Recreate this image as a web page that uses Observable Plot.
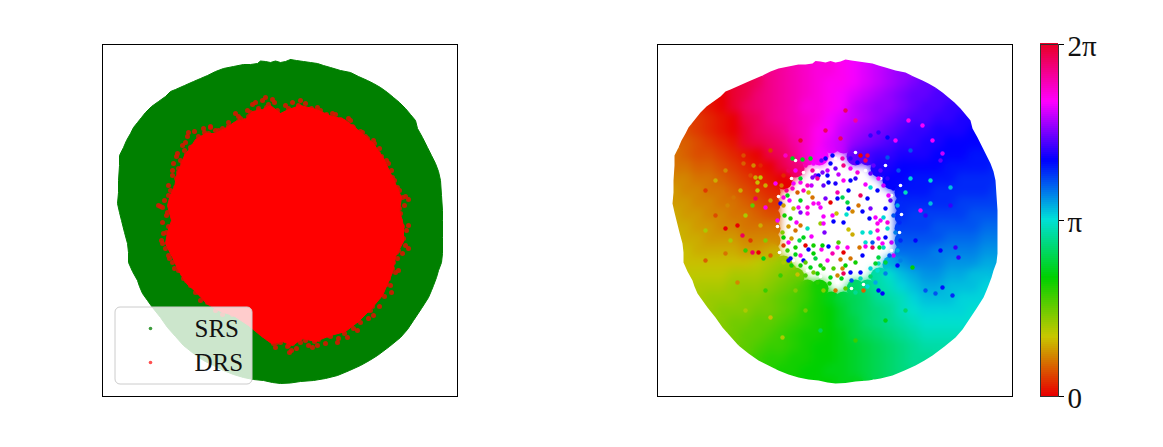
<!DOCTYPE html>
<html><head><meta charset="utf-8">
<script src="https://cdn.jsdelivr.net/npm/d3@7"></script>
<script src="https://cdn.jsdelivr.net/npm/@observablehq/plot@0.6"></script>
<style>
html,body{margin:0;padding:0;background:#fff}
#chart{position:relative;width:1163px;height:447px;overflow:hidden}
#chart svg{position:absolute;background:transparent;overflow:visible}
</style></head><body><div id="chart"></div>
<script>
const _ = null;
// embedding outline (common coordinates of both panels)
const outlineX = [290,285,280,275,270,265,260,257,250,243,233,223,215,207,200,193,184,175,170,165,158,151,145,141,137,133,130,126,123,119,119,118,118,117,119,121,124,127,128,128,132,137,139,142,147,152,160,167,175,183,193,203,213,223,233,243,253,263,272,280,290,300,313,325,337,349,360,369,377,389,400,407,413,421,428,431,433,436,438,441,442,442,442,442,441,440,438,435,431,427,422,417,415,410,405,399,393,387,380,373,367,358,350,340,330,323,317,310,303,296,290];
const outlineY = [59,61,62,60.5,62,61,60.5,63,64,64,66,68,71,75,78,81,85,89,91,96,101,106,112,117,122,127,133,140,147,155,165,180,192,203,212,220,232,243,252,262,271,280,286,293,300,307,317,327,336,345,353,360,365,370,374,377,379,380,382,383,382.5,381,380,378,375,370,365,360,355,346,337,329,320,308,297,290,285,277,270,262,253,237,220,210,195,180,171,163,155,147,137,128,120,114,108,102,97,92,87,83,80,76,72,70,67,65,63,62,61,60,59];
// DRS solid region outline
const drsX = [280,270,262,252,245,235,226,215,205,195,190,184,180,176,174,170,167,171,167,165,172,178,186,195,206,220,233,248,260,271,282,292,302,315,330,345,358,371,382,392,395,403,403,399,401,393,383,373,357,344,329,316,300,288,280];
const drsY = [113,105,109,111,119,121,127,133,133,139,147,155,165,175,187,194,205,220,232,243,257,270,283,291,303,311,315,325,335,343,341,345,338,341,335,331,321,308,295,272,256,241,225,210,197,179,158,143,129,119,115,109,105,109,113];
// DRS fringe points
const fringeX = [188,203,210,215,185,177,173,172,175,168,162,158,167,235,240,255,265,272,247,200,210,300,317,332,348,360,373,378,388,392,397,408,402,400,408,408,402,397,398,390,373,370,357,347,337,317,308,300,289,292,162,168,172,182,187,195,208,163,260,273,267,160,164,170,168,176,172,178,180,176,184,182,190,187,194,198,204,210,216,222,228,233,238,244,250,252,258,262,268,274,277,285,292,298,305,311,320,326,335,341,350,353,362,367,374,379,381,386,384,391,394,389,399,405,396,404,400,406,403,405,398,393,395,388,391,384,379,372,368,360,353,344,338,330,325,318,312,305,296,291,287,280,275,268,262,254,248,240,232,222,215,207,200,197,190,183,178,174,169,165,161,166,168,162,166,
172,174,178,182,186,192,199,208,218,228,238,248,258,266,276,288,298,312,326,340,352,365,373,382,388,393,396,399,402,401,396,392,386,378,368,356,342,328,314,300,288,276,264,252,238,224,210,198,186,178,172,168,170,172];
const fringeY = [132,128,127,130,142,153,163,175,187,195,207,205,212,113,118,102,97,99,110,143,140,100,107,113,118,131,140,153,163,177,187,199,197,213,225,248,253,258,270,285,315,310,330,337,342,345,345,342,352,343,243,255,262,273,280,292,292,233,323,343,333,206,200,190,185,178,170,168,160,156,150,145,147,136,131,136,132,126,134,128,122,126,116,120,112,104,108,100,104,102,110,105,102,106,103,108,110,115,114,120,120,127,132,138,143,148,156,160,168,170,180,185,190,196,196,205,220,230,238,245,250,262,272,278,292,296,306,306,318,322,328,333,338,336,343,339,347,340,348,350,346,342,347,338,330,325,318,316,314,314,310,302,300,287,285,278,270,268,258,248,240,232,226,222,215,
200,190,172,162,154,146,140,133,130,126,121,116,110,107,112,108,105,110,114,119,126,136,148,160,172,185,195,208,226,240,252,268,284,296,310,320,330,335,341,338,345,342,335,324,314,310,303,292,280,266,252,240,228,214];
// legend
const legendLabels = ["SRS","DRS"];
const legendDotX = [150,150];
const legendTextX = [194,194];
const legendY = [328,362];
// phase field: [first column, values...] in tenths of a radian, one row per y
const fieldX0 = 120, fieldY0 = 60, fieldStep = 12;
const phaseRows = [
[11,55,54,54,53,52,51,50],
[8,58,57,56,55,54,54,53,52,51,50,49,48],
[5,62,61,60,58,57,56,55,54,53,53,52,51,50,49,48,47,46],
[3,1,0,62,61,59,58,57,56,55,54,53,52,51,50,49,48,47,46,46,45,45],
[2,2,1,0,62,60,59,58,57,56,54,54,53,52,50,49,48,48,47,46,45,45,44,44],
[2,3,2,1,0,61,60,58,57,56,55,54,52,51,50,49,48,47,46,45,45,44,44,43,43],
[1,4,3,2,1,0,62,60,59,58,56,55,53,52,50,49,48,47,46,45,44,44,43,43,43,42],
[1,5,4,3,2,1,62,61,60,59,57,55,53,51,50,48,47,46,45,44,44,43,43,42,42,42,42],
[0,6,5,4,4,3,2,1,0,61,60,58,55,52,_,_,46,45,44,44,43,43,43,42,42,42,41,41],
[0,6,6,5,5,4,3,2,1,0,61,59,_,_,_,_,_,_,43,43,42,42,42,42,41,41,41,41,40],
[0,7,7,6,6,5,4,3,2,1,0,_,_,_,_,_,_,_,_,42,42,41,41,41,41,40,40,40,40],
[0,8,7,7,6,6,5,4,3,2,_,_,_,_,_,_,_,_,_,_,41,41,41,40,40,40,40,40,39],
[0,8,8,7,7,6,6,5,4,3,_,_,_,_,_,_,_,_,_,_,40,40,40,40,40,39,39,39,39],
[0,9,8,8,7,7,6,6,5,4,_,_,_,_,_,_,_,_,_,_,40,39,39,39,39,39,38,38,38],
[0,9,9,8,8,7,7,6,6,6,_,_,_,_,_,_,_,_,_,_,39,39,39,38,38,38,38,37,37],
[0,10,9,9,8,8,8,7,7,7,_,_,_,_,_,_,_,_,_,_,38,38,38,38,37,37,37,36,36],
[0,10,10,9,9,9,9,8,8,9,_,_,_,_,_,_,_,_,_,_,37,37,37,36,36,36,36,35,35],
[1,10,10,10,10,10,10,11,12,13,_,_,_,_,_,_,_,_,34,35,36,36,36,35,35,35,34,34],
[1,11,11,11,11,12,12,12,13,14,15,_,_,_,_,_,_,29,31,33,34,35,35,34,34,33,33],
[2,12,12,12,13,13,13,14,15,16,18,20,_,_,26,27,29,30,32,33,34,34,33,33,33,32],
[2,12,13,13,13,14,14,15,16,17,18,20,22,24,25,26,28,29,30,32,33,33,33,32,32,32],
[3,13,14,14,14,15,15,16,17,19,20,21,23,25,26,27,28,30,31,32,32,32,32,31],
[4,14,15,15,16,16,17,18,19,20,21,23,24,26,27,28,29,30,31,31,31,31,31],
[5,15,16,16,17,18,19,20,20,21,22,24,25,26,27,28,29,30,30,30,30],
[6,16,17,18,18,19,20,21,21,22,23,24,25,26,27,28,29,29,29],
[7,18,19,19,20,20,21,21,22,23,24,25,26,27,28,28],
[9,20,20,21,21,22,22,23,24,25,26,27],
[12,21,21,22,22]
];
const fieldCells = phaseRows.flatMap((row,j)=>row.slice(1).map((v,i)=>({
  x: fieldX0+fieldStep*(row[0]+i), y: fieldY0+fieldStep*j, phase: v===null?null:v/10})).filter(d=>d.phase!==null));
// white gaps between samples around the central hole
const gapX = [236,246,223,238,222,236,224,238,252,265,282,296,308,322,336,344,346,336,345,325,310,296,280,262,248,240,300,330];
const gapY = [178,178,196,205,226,232,252,260,270,276,282,288,284,262,250,232,214,195,185,178,170,170,158,170,172,160,152,165];
// individual samples: x, y, phase tenths
const sampleX = [268,277,281,278,288,291,293,297,265,268,269,256,248,240,245,252,283,273,282,292,288,266,267,258,253,258,235,240,307,315,322,310,317,310,317,304,324,325,320,322,314,315,312,307,303,297,293,287,292,282,275,270,265,258,252,243,257,253,245,238,263,252,235,222,225,238,245,252,260,273,280,288,295,282,293,305,315,275,287,295,302,315,323,322,333,328,330,323,332,248,257,267,237,232,228,233,248,287,300,307,323,295,285,272,277,290,265,255,245,238,323,315,305,295,262,275,282,288,200,205,202,202,197,188,188,198,178,172,220,228,210,200,237,247,255,245,257,270,263,277,355,375,395,350,375,387,377,367,353,332,323,305,312,285,290,332,343,365,323,327,308,387,397,342,357,330,400,403,380,320,338,327,190,203,208,197,182,215,227,233,170,182,187,150,170,
228,233,240,226,231,242,248,228,234,245,229,233,241,227,236,244,250,232,240,228,245,236,250,228,
250,258,266,272,280,288,295,302,310,318,262,272,283,300,310,268,256,
325,332,338,328,335,342,330,338,344,332,340,345,336,328,342,334,345,330,
260,268,278,286,296,305,315,322,274,262,280,290,300,312,320,250,258,242,268,
150,160,170,185,195,205,210,215,160,190,205,210,195,175,150,215,225,240,210,190,250,265,300,330,350,370,385,360,370,395,385,355,340,315,300,270,245,215,230];
const sampleY = [216,215,213,221,222,214,229,234,223,223,232,236,237,230,225,228,242,246,247,247,252,249,245,245,249,253,258,247,232,232,230,242,242,246,247,247,247,220,217,223,218,208,198,211,205,211,208,197,202,198,202,198,207,203,207,207,197,192,200,208,203,213,218,220,203,183,182,185,175,182,183,180,180,192,190,195,187,163,158,168,172,173,178,190,195,217,237,238,228,160,170,172,188,195,237,242,260,268,262,255,257,258,259,260,253,265,265,267,265,267,263,268,272,272,273,277,275,273,177,177,182,190,205,155,163,165,197,205,183,197,207,198,158,159,158,178,177,158,175,155,178,180,187,192,203,153,140,125,120,137,132,155,155,138,110,157,170,210,290,293,290,287,295,265,267,273,247,257,293,263,255,243,250,252,258,252,282,317,337,260,228,225,235,260,253,
175,170,170,185,190,192,190,205,200,212,215,226,222,232,238,240,245,250,254,245,255,265,262,262,
165,163,160,170,168,165,158,162,160,165,178,175,174,178,184,185,185,
170,178,188,185,200,205,208,215,222,222,232,240,242,247,250,255,260,262,
258,268,268,278,280,278,276,270,283,282,290,288,292,286,282,275,272,274,290,
190,180,170,190,175,165,185,200,215,215,225,240,240,240,230,255,275,290,290,310,310,330,340,320,310,290,250,240,215,205,160,150,140,135,120,130,140,150,155];
const samplePhase = [52,52,10,42,42,31,10,9,13,52,47,52,22,6,6,30,17,42,53,53,0,53,21,20,42,21,42,20,31,31,54,31,38,53,60,6,22,52,52,53,42,47,42,42,6,7,42,25,24,42,0,47,52,53,55,52,6,10,22,12,52,53,20,52,42,52,53,55,48,42,43,53,42,56,42,60,31,42,56,52,54,46,52,42,52,32,42,52,31,56,57,47,55,22,21,53,42,7,20,42,24,6,6,53,56,21,20,22,20,14,30,32,42,42,20,22,7,60,9,11,10,11,16,4,5,7,6,7,52,54,53,60,22,22,22,23,47,42,42,42,32,31,33,30,33,50,52,52,53,42,44,0,61,60,60,38,38,52,42,42,5,41,40,42,21,36,44,44,38,23,50,52,18,0,22,60,7,10,12,42,0,0,60,5,6,
2,60,52,6,58,5,55,8,52,47,20,8,52,14,8,25,0,18,22,3,53,20,16,12,
56,52,46,50,46,58,44,42,60,46,57,42,50,44,52,46,50,
46,44,42,50,46,34,42,38,40,54,36,40,50,30,34,38,36,24,
24,19,17,22,38,30,26,31,20,19,6,16,28,32,34,17,15,10,14,
3,9,7,9,4,2,9,8,4,12,9,14,3,12,12,5,18,14,18,12,15,25,18,22,26,38,42,42,44,44,46,38,52,44,57,60,62,3,55];
// colour bar
const phaseStops = [0,1,2,3,4,5,6].map(k=>k*Math.PI/3);
const phaseColors = ["#e80000","#c8c800","#00d000","#00e0d8","#0000ff","#ff00ff","#e80020"];
const barTicks = [0,Math.PI,2*Math.PI];
const barLabels = ["0","π","2π"];
const barLevels = d3.range(0,2*Math.PI,2*Math.PI/176);
const colorScale = {type:"linear",domain:phaseStops,range:phaseColors};
const frameX = [92,467,467,92,92];
const frameY = [34,34,406,406,34];
const serif = "'Liberation Serif','DejaVu Serif',serif";

const panel = (marks)=>Plot.plot({width:357,height:354,marginTop:1,marginBottom:1,marginLeft:1,marginRight:1,
  x:{domain:[102,457],axis:null},y:{domain:[396,44],axis:null},color:colorScale,marks});

const left = panel([
  Plot.line(outlineX,{x:outlineX,y:outlineY,fill:"green",stroke:"green",strokeWidth:1}),
  Plot.dot(fringeX,{x:fringeX,y:fringeY,r:2.5,fill:"#e01000",fillOpacity:0.85,stroke:"none"}),
  Plot.line(drsX,{x:drsX,y:drsY,fill:"red",stroke:"red",strokeWidth:1}),
  Plot.rect([0],{x1:[115],x2:[252],y1:[307],y2:[384],rx:5,fill:"white",fillOpacity:0.8,stroke:"#ccc",strokeWidth:1}),
  Plot.dot([0],{x:[legendDotX[0]],y:[legendY[0]],r:1.8,fill:"#3c9c3c",stroke:"none"}),
  Plot.dot([0],{x:[legendDotX[1]],y:[legendY[1]],r:1.8,fill:"#ff5050",stroke:"none"}),
  Plot.text(legendLabels,{x:legendTextX,y:legendY,text:d=>d,fontSize:25,fontFamily:serif,fill:"#111",textAnchor:"start"}),
  Plot.frame({stroke:"#000",strokeWidth:1})
]);
left.style.left="101px";left.style.top="43px";

const maskX = frameX.concat(outlineX,[outlineX[0],frameX[0]]);
const maskY = frameY.concat(outlineY,[outlineY[0],frameY[0]]);
const right = panel([
  Plot.dot(fieldCells,{x:"x",y:"y",r:9,fill:"phase",stroke:"none"}),
  Plot.dot(fieldCells,{x:"x",y:"y",r:9,fill:"phase",stroke:"none",imageFilter:"blur(4px)"}),
  Plot.dot(gapX,{x:gapX,y:gapY,r:1.8,fill:"white",stroke:"none"}),
  Plot.dot(sampleX,{x:sampleX,y:sampleY,r:2.2,fill:samplePhase.map(v=>v/10),stroke:"none"}),
  Plot.line(maskX,{x:maskX,y:maskY,fill:"white",stroke:"none"}),
  Plot.frame({stroke:"#000",strokeWidth:1})
]);
right.style.left="656px";right.style.top="43px";

const bar = Plot.plot({width:80,height:392,marginTop:20,marginBottom:20,marginLeft:1,marginRight:61,
  x:{domain:[0,1],axis:null},y:{domain:[0,2*Math.PI],axis:null},color:colorScale,
  marks:[
    Plot.rect(barLevels,{x1:0,x2:1,y1:d=>d,y2:d=>d+2*Math.PI/176+0.01,fill:d=>d,shapeRendering:"crispEdges"}),
    Plot.frame({stroke:"#333",strokeWidth:1}),
    Plot.axisY({anchor:"right",ticks:barTicks,tickFormat:()=>"",tickSize:5}),
    Plot.axisY({anchor:"right",ticks:barTicks,tickFormat:(d,i)=>barLabels[i],tickSize:0,tickPadding:9,dy:2,fontSize:29,fontFamily:serif,color:"#111"})
  ]});
bar.style.left="1039px";bar.style.top="24px";

document.getElementById("chart").append(left,right,bar);
</script>
</body></html>
